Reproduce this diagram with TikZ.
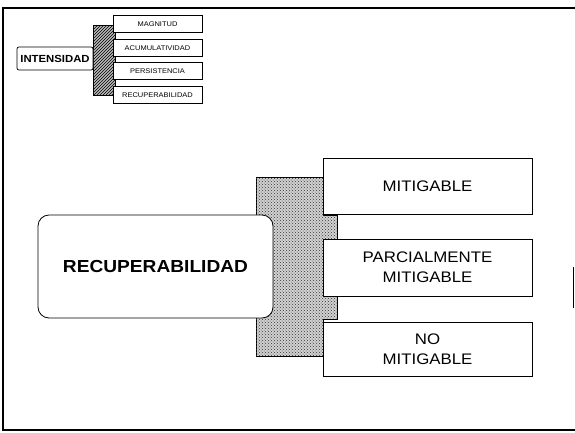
\documentclass[tikz,border=0pt]{standalone}
\usepackage{fontspec}
\setmainfont{Liberation Sans}[FakeStretch=1.1]
\usetikzlibrary{patterns}
\begin{document}
\begin{tikzpicture}[x=1pt,y=-1pt,
  bigbox/.style={draw,line width=0.8pt,fill=white,minimum width=209pt,inner sep=0pt,align=center,font=\fontsize{15.3}{20}\selectfont},
  smallbox/.style={draw,line width=0.6pt,fill=white,minimum width=89pt,minimum height=17pt,inner sep=0pt,font=\fontsize{6.8}{8}\selectfont},
  mainbox/.style={draw,line width=0.8pt,fill=white,rounded corners=11pt,inner sep=0pt,font=\bfseries\fontsize{17.4}{20}\selectfont},
  dotfill/.style={fill=gray!35,postaction={pattern=crosshatch dots,pattern color=black!80}},
  linefill/.style={fill=gray!55,postaction={pattern=north east lines,pattern color=black}}
]
\useasboundingbox (0,0) rectangle (575,432);
% frame
\draw[line width=1.5pt] (575,8) -- (3,8) -- (3,430) -- (575,430);
\draw[line width=0.6pt] (573,267) -- (573,308);

% small diagram
\path[linefill,draw=black,line width=0.4pt] (93,25) rectangle (115,95);
\node[draw,line width=0.7pt,fill=white,rounded corners=2pt,minimum width=76pt,minimum height=23pt,inner sep=0pt,font=\bfseries\fontsize{10.3}{12}\selectfont] (int) at (55,58.5) {INTENSIDAD};
\node[smallbox] (mag) at (157.5,24) {MAGNITUD};
\node[smallbox] (acu) at (157.5,48) {ACUMULATIVIDAD};
\node[smallbox] (per) at (157.5,71) {PERSISTENCIA};
\node[smallbox] (rec) at (157.5,95) {RECUPERABILIDAD};

% big diagram
\path[dotfill,draw=black,line width=0.4pt] (256,177) -- (323,177) -- (323,215) -- (337,215) -- (337,319) -- (323,319) -- (323,356) -- (256,356) -- cycle;
\node[mainbox,minimum width=235pt,minimum height=103pt] (main) at (155.5,266.5) {RECUPERABILIDAD};
\node[bigbox,minimum height=56pt] (m1) at (427.5,186) {MITIGABLE};
\node[bigbox,minimum height=57pt] (m2) at (427.5,267.5) {PARCIALMENTE\\MITIGABLE};
\node[bigbox,minimum height=54pt] (m3) at (427.5,349) {NO\\MITIGABLE};
\end{tikzpicture}
\end{document}
